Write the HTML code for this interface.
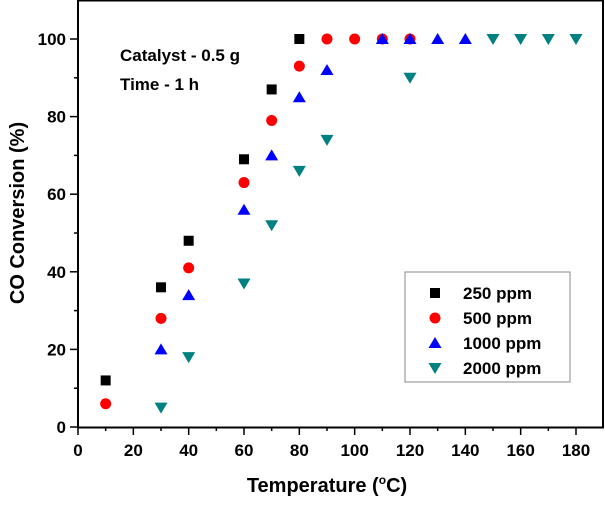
<!DOCTYPE html>
<html><head><style>
body{margin:0;background:#fff}
svg text{font-family:"Liberation Sans",Arial,sans-serif;font-weight:bold}
</style></head><body>
<svg id="c" width="605" height="502" xmlns="http://www.w3.org/2000/svg"></svg>
<script>
const xTicks=[0,20,40,60,80,100,120,140,160,180];
const yTicks=[0,20,40,60,80,100];
const s250x=[10,30,40,60,70,80];
const s250y=[12,36,48,69,87,100];
const s500x=[10,30,40,60,70,80,90,100,110,120];
const s500y=[6,28,41,63,79,93,100,100,100,100];
const s1000x=[30,40,60,70,80,90,110,120,130,140];
const s1000y=[20,34,56,70,85,92,100,100,100,100];
const s2000x=[30,40,60,70,80,90,120,150,160,170,180];
const s2000y=[5,18,37,52,66,74,90,100,100,100,100];
const L=78,R=604,T=0,B=427;
const X=v=>78+v*(576-78)/180;
const Y=v=>427-v*3.88;
const svg=document.getElementById('c');
const NS='http://www.w3.org/2000/svg';
function mk(tag,a,p){const e=document.createElementNS(NS,tag);for(const k in a)e.setAttribute(k,a[k]);(p||svg).appendChild(e);return e;}
let fr=mk('rect',{x:L,y:T+0.5,width:R-L-1,height:B-T,fill:'none',stroke:'#000','stroke-width':2});


for(let v=0;v<=180;v+=10){const l=mk('line',{x1:X(v),x2:X(v),y1:B,y2:B+(v%20?4:8),stroke:'#000','stroke-width':1.5});

}
xTicks.forEach(v=>{const t=mk('text',{x:X(v),y:B+29,'text-anchor':'middle','font-size':17});t.textContent=v;

});
for(let v=0;v<=100;v+=10){const l=mk('line',{x1:L,x2:L-(v%20?4:8),y1:Y(v),y2:Y(v),stroke:'#000','stroke-width':1.5});

}
yTicks.forEach(v=>{const t=mk('text',{x:L-12,y:Y(v)+6,'text-anchor':'end','font-size':17});t.textContent=v;

});
let xt=mk('text',{x:327,y:492,'text-anchor':'middle','font-size':20});
xt.innerHTML='Temperature (<tspan dy="-8" font-size="12">o</tspan><tspan dy="8">C)</tspan>';


let yt=mk('text',{x:0,y:0,'text-anchor':'middle','font-size':20,transform:'translate(24,213) rotate(-90)'});
yt.textContent='CO Conversion (%)';


let a1=mk('text',{x:120,y:61,'font-size':17});a1.textContent='Catalyst - 0.5 g';


let a2=mk('text',{x:120,y:90,'font-size':17});a2.textContent='Time - 1 h';


function marker(type,cx,cy,g){
 if(type==='sq')return mk('rect',{x:cx-5,y:cy-5,width:10,height:10,fill:'#000'},g);
 if(type==='ci')return mk('circle',{cx,cy,r:5.5,fill:'#f00'},g);
 if(type==='up')return mk('polygon',{points:`${cx},${cy-6} ${cx+6.5},${cy+5} ${cx-6.5},${cy+5}`,fill:'#00f'},g);
 return mk('polygon',{points:`${cx},${cy+6} ${cx+6.5},${cy-5} ${cx-6.5},${cy-5}`,fill:'#008080'},g);
}
const series=[['sq',s250x,s250y,'series-250ppm'],['ci',s500x,s500y,'series-500ppm'],['up',s1000x,s1000y,'series-1000ppm'],['dn',s2000x,s2000y,'series-2000ppm']];
series.forEach(([t,xs,ys,n])=>{const g=mk('g',{});


xs.forEach((x,i)=>{const m=marker(t,X(x),Y(ys[i]),g);

});});
const lg=mk('g',{});


mk('rect',{x:405,y:272,width:165,height:110,fill:'#fff',stroke:'#888','stroke-width':1},lg);
const labels=['250 ppm','500 ppm','1000 ppm','2000 ppm'];
labels.forEach((l,i)=>{const y=293+i*25;const e=mk('g',{},lg);


marker(series[i][0],435,y,e);
const t=mk('text',{x:463,y:y+6,'font-size':17},e);t.textContent=l;});
</script>
</body></html>
